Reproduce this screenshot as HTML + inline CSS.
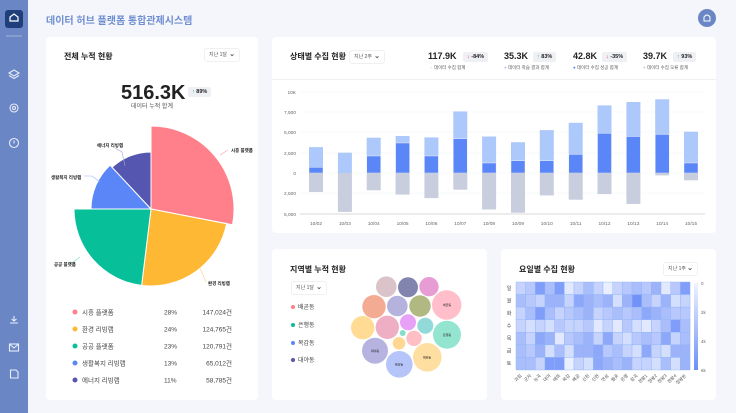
<!DOCTYPE html>
<html><head><meta charset="utf-8"><style>
*{margin:0;padding:0;box-sizing:border-box}
body{width:736px;height:413px;background:#f4f6fb;font-family:"Liberation Sans","Noto Sans CJK KR",sans-serif;position:relative;overflow:hidden;color:#222}
.a{position:absolute}
.card{position:absolute;background:#fff;border-radius:4px}
.dd{position:absolute;border:1px solid #eef0f4;border-radius:3px;font-size:5px;color:#555;padding:0 4px;line-height:12px;height:14px}
.dd b{position:absolute;right:4px;top:0;font-size:7px}
.t{font-weight:bold;font-size:8px;color:#222}
.s{font-size:5px;color:#555}
.badge{position:absolute;background:#eef0f4;border-radius:2px;font-size:5.5px;font-weight:bold;line-height:10px;padding:0 4px}
</style></head><body>
<div class="a" style="left:0;top:0;width:28px;height:413px;background:#6a86c4"></div>
<div class="a" style="left:5px;top:10px;width:18px;height:18px;background:#1f3f7a;border-radius:3px"></div>
<svg class="a" style="left:0;top:0" width="28" height="413">
<path d="M10 21 L10 17 L14 14 L18 17 L18 21 Z" fill="none" stroke="#fff" stroke-width="1.2"/>
<line x1="6" y1="36" x2="22" y2="36" stroke="#9db1db" stroke-width="1"/>
<g fill="none" stroke="#e8eefa" stroke-width="1.1">
<path d="M9 73 L14 70 L19 73 L14 76Z M9 75.5 L14 78.5 L19 75.5"/>
<circle cx="14" cy="108" r="4"/><circle cx="14" cy="108" r="1.5"/>
<circle cx="14" cy="143" r="4.5"/><line x1="14" y1="140.5" x2="14" y2="143.5"/>
<path d="M10 323 L18 323 M14 316 L14 321 M11.5 319 L14 321 L16.5 319"/>
<rect x="9.5" y="344" width="9" height="7"/><path d="M9.5 344 L14 348 L18.5 344"/>
<path d="M10.5 370 L16 370 L18 372 L18 378 L10.5 378Z"/>
</g></svg>
<div class="a" style="left:46px;top:12px;font-size:10px;color:#6f8fd0;font-weight:bold">데이터 허브 플랫폼 통합관제시스템</div>
<div class="a" style="left:698px;top:9px;width:18px;height:18px;border-radius:50%;background:#6a86c4"></div>
<svg class="a" style="left:698px;top:9px" width="18" height="18"><path d="M6 12 L6 8 Q9 4 12 8 L12 12Z" fill="none" stroke="#fff" stroke-width="1"/></svg>

<div class="card" style="left:46px;top:37px;width:212px;height:363px"></div>
<div class="a t" style="left:64px;top:51px">전체 누적 현황</div>
<div class="dd" style="left:204px;top:48px;width:36px">지난 1달<b>⌄</b></div>
<div class="a" style="left:121px;top:82px;font-size:20px;font-weight:bold;color:#222">516.3K</div>
<div class="badge" style="left:188px;top:87px"><span style="color:#1bb38a">↑</span> 89%</div>
<div class="a s" style="left:131px;top:101px;font-size:6px">데이터 누적 합계</div>
<svg class="a" style="left:46px;top:110px" width="212" height="190" viewBox="46 110 212 190">
<g stroke="#fff" stroke-width="1">
<path d="M151 209 L151 126 A83 83 0 0 1 232.5 224.8Z" fill="#ff7f8a"/>
<path d="M151 209 L226.6 223.7 A77 77 0 0 1 141.6 285.4Z" fill="#ffb833"/>
<path d="M151 209 L141.6 285.4 A77 77 0 0 1 74 209Z" fill="#07bf99"/>
<path d="M151 209 L91 209 A60 60 0 0 1 110.1 165.1Z" fill="#5b86f7"/>
<path d="M151 209 L112.1 167.3 A57 57 0 0 1 151 152Z" fill="#5556b0"/>
</g>
<g fill="none" stroke-width="0.6">
<path d="M220 155 L228 150" stroke="#ff9aa4"/>
<path d="M200 268 L206 282" stroke="#ffcf80"/>
<path d="M80 257 L70 264" stroke="#7fdcc5"/>
<path d="M100 182 L92 176 L84 176" stroke="#9db6fb"/>
<path d="M125 166 L122 152 L115 148" stroke="#a5a6dc"/>
</g>
<g font-size="4.5" font-weight="bold" fill="#222">
<text x="231" y="152">시흥 플랫폼</text>
<text x="208" y="285">환경 리빙랩</text>
<text x="54" y="266">공공 플랫폼</text>
<text x="51" y="179">생활복지 리빙랩</text>
<text x="97" y="147">에너지 리빙랩</text>
</g></svg>
<svg class="a" style="left:46px;top:300px" width="212" height="90" viewBox="46 300 212 90">
<g font-size="6.5" fill="#444">
<circle cx="75" cy="312" r="2.5" fill="#ff7f8a"/><text x="82" y="314.5">시흥 플랫폼</text><text x="164" y="314.5">28%</text><text x="232" y="314.5" text-anchor="end">147,024건</text>
<circle cx="75" cy="329" r="2.5" fill="#ffb833"/><text x="82" y="331.5">환경 리빙랩</text><text x="164" y="331.5">24%</text><text x="232" y="331.5" text-anchor="end">124,765건</text>
<circle cx="75" cy="346" r="2.5" fill="#07bf99"/><text x="82" y="348.5">공공 플랫폼</text><text x="164" y="348.5">23%</text><text x="232" y="348.5" text-anchor="end">120,791건</text>
<circle cx="75" cy="363" r="2.5" fill="#5b86f7"/><text x="82" y="365.5">생활복지 리빙랩</text><text x="164" y="365.5">13%</text><text x="232" y="365.5" text-anchor="end">65,012건</text>
<circle cx="75" cy="380" r="2.5" fill="#5556b0"/><text x="82" y="382.5">에너지 리빙랩</text><text x="164" y="382.5">11%</text><text x="232" y="382.5" text-anchor="end">58,785건</text>
</g></svg>

<div class="card" style="left:272px;top:37px;width:444px;height:196px"></div>
<div class="a" style="left:272px;top:79px;width:444px;height:1px;background:#eef0f4"></div>
<div class="a t" style="left:290px;top:51px">상태별 수집 현황</div>
<div class="dd" style="left:349px;top:50px;width:36px">지난 2주<b>⌄</b></div>
<div class="a" style="left:428px;top:51px;font-size:9px;font-weight:bold">117.9K</div>
<div class="badge" style="left:463px;top:52px"><span style="color:#f36">↓</span> -84%</div>
<div class="a s" style="left:430px;top:65px;font-size:4.5px"><span style="color:#eee">●</span> 데이터 수집 합계</div>
<div class="a" style="left:504px;top:51px;font-size:9px;font-weight:bold">35.3K</div>
<div class="badge" style="left:533px;top:52px"><span style="color:#1bb38a">↑</span> 83%</div>
<div class="a s" style="left:504px;top:65px;font-size:4.5px"><span style="color:#adc8fb">●</span> 데이터 학습 결과 합계</div>
<div class="a" style="left:573px;top:51px;font-size:9px;font-weight:bold">42.8K</div>
<div class="badge" style="left:602px;top:52px"><span style="color:#f36">↓</span> -35%</div>
<div class="a s" style="left:573px;top:65px;font-size:4.5px"><span style="color:#5b86f7">●</span> 데이터 수집 성공 합계</div>
<div class="a" style="left:643px;top:51px;font-size:9px;font-weight:bold">39.7K</div>
<div class="badge" style="left:673px;top:52px"><span style="color:#1bb38a">↑</span> 93%</div>
<div class="a s" style="left:643px;top:65px;font-size:4.5px"><span style="color:#c8cedd">●</span> 데이터 수집 오류 합계</div>
<svg class="a" style="left:272px;top:80px" width="444" height="153" viewBox="272 80 444 153">
<g stroke="#f0f2f6" stroke-width="0.6"><line x1="300" x2="705" y1="92" y2="92"/><line x1="300" x2="705" y1="112" y2="112"/><line x1="300" x2="705" y1="132" y2="132"/><line x1="300" x2="705" y1="153" y2="153"/><line x1="300" x2="705" y1="173" y2="173"/><line x1="300" x2="705" y1="193" y2="193"/></g>
<line x1="300" x2="705" y1="214" y2="214" stroke="#ccc" stroke-width="0.7"/>
<g font-size="4.8" fill="#666" text-anchor="end"><text x="296" y="94">10K</text><text x="296" y="114">7,500</text><text x="296" y="134">5,000</text><text x="296" y="155">2,500</text><text x="296" y="175">0</text><text x="296" y="195">2,500</text><text x="296" y="216">5,000</text></g>
<g fill="#adc8fb">
<rect x="309" y="147.1" width="14" height="25.9"/><rect x="337.9" y="152.7" width="14" height="20.3"/><rect x="366.7" y="137.7" width="14" height="35.3"/><rect x="395.6" y="136" width="14" height="37"/><rect x="424.4" y="137.4" width="14" height="35.6"/><rect x="453.3" y="111.4" width="14" height="61.6"/><rect x="482.1" y="136.5" width="14" height="36.5"/><rect x="511" y="142.2" width="14" height="30.8"/><rect x="539.8" y="130.1" width="14" height="42.9"/><rect x="568.7" y="122.8" width="14" height="50.2"/><rect x="597.5" y="105.4" width="14" height="67.6"/><rect x="626.4" y="102" width="14" height="71"/><rect x="655.2" y="99.3" width="14" height="73.7"/><rect x="684" y="131.7" width="14" height="41.3"/></g>
<g fill="#5b86f7" stroke="#fff" stroke-width="0.4">
<rect x="309" y="167.3" width="14" height="5.7"/><rect x="366.7" y="156" width="14" height="17"/><rect x="395.6" y="143" width="14" height="30"/><rect x="424.4" y="156" width="14" height="17"/><rect x="453.3" y="138.7" width="14" height="34.3"/><rect x="482.1" y="163" width="14" height="10"/><rect x="511" y="160.8" width="14" height="12.2"/><rect x="539.8" y="160.8" width="14" height="12.2"/><rect x="568.7" y="154.4" width="14" height="18.6"/><rect x="597.5" y="133.3" width="14" height="39.7"/><rect x="626.4" y="136.5" width="14" height="36.5"/><rect x="655.2" y="134.4" width="14" height="38.6"/><rect x="684" y="163" width="14" height="10"/></g>
<g fill="#c8cedd">
<rect x="309" y="173" width="14" height="19"/><rect x="337.9" y="173" width="14" height="38.9"/><rect x="366.7" y="173" width="14" height="17.3"/><rect x="395.6" y="173" width="14" height="21.6"/><rect x="424.4" y="173" width="14" height="25.1"/><rect x="453.3" y="173" width="14" height="16.7"/><rect x="482.1" y="173" width="14" height="36.5"/><rect x="511" y="173" width="14" height="39.7"/><rect x="539.8" y="173" width="14" height="22.4"/><rect x="568.7" y="173" width="14" height="26.7"/><rect x="597.5" y="173" width="14" height="21.1"/><rect x="626.4" y="173" width="14" height="31"/><rect x="655.2" y="173" width="14" height="2.4"/><rect x="684" y="173" width="14" height="7.3"/></g>
<g font-size="4.8" fill="#666" text-anchor="middle"><text x="316" y="225">10/02</text><text x="344.9" y="225">10/03</text><text x="373.7" y="225">10/04</text><text x="402.6" y="225">10/05</text><text x="431.4" y="225">10/06</text><text x="460.3" y="225">10/07</text><text x="489.1" y="225">10/08</text><text x="518" y="225">10/09</text><text x="546.8" y="225">10/10</text><text x="575.7" y="225">10/11</text><text x="604.5" y="225">10/12</text><text x="633.4" y="225">10/13</text><text x="662.2" y="225">10/14</text><text x="691" y="225">10/15</text></g>
</svg>

<div class="card" style="left:272px;top:249px;width:215px;height:151px"></div>
<div class="a t" style="left:290px;top:264px">지역별 누적 현황</div>
<div class="dd" style="left:291px;top:281px;width:36px">지난 1달<b>⌄</b></div>
<svg class="a" style="left:272px;top:249px" width="215" height="151" viewBox="272 249 215 151">
<g font-size="6" fill="#444">
<circle cx="293" cy="307" r="2" fill="#ff7f8a"/><text x="298" y="309">배곧동</text>
<circle cx="293" cy="325" r="2" fill="#07bf99"/><text x="298" y="327">은행동</text>
<circle cx="293" cy="343" r="2" fill="#5b86f7"/><text x="298" y="345">목감동</text>
<circle cx="293" cy="360" r="2" fill="#5556b0"/><text x="298" y="362">대야동</text></g>
<g fill-opacity="0.85">
<circle cx="386.3" cy="286.7" r="10.3" fill="#d4b8c0"/><circle cx="408" cy="287.3" r="10" fill="#6b6e9e"/><circle cx="429" cy="286.7" r="9.7" fill="#e38ccd"/><circle cx="446.7" cy="305" r="14.7" fill="#ffb3c0"/><circle cx="374" cy="306.7" r="11.7" fill="#f29c80"/><circle cx="397.3" cy="306" r="10.3" fill="#a8a6d8"/><circle cx="420" cy="306" r="10.7" fill="#a3ab6c"/><circle cx="362.7" cy="327.7" r="11.7" fill="#ffd580"/><circle cx="387.3" cy="327.3" r="11.7" fill="#eba0b8"/><circle cx="408" cy="322.3" r="8" fill="#e390f5"/><circle cx="425.3" cy="325.7" r="8" fill="#7fd4d4"/><circle cx="447" cy="334.7" r="14" fill="#80e0c8"/><circle cx="402.7" cy="333" r="3" fill="#70d8c0"/><circle cx="414" cy="338.3" r="7.7" fill="#ffb3b8"/><circle cx="399" cy="343.3" r="6.3" fill="#ffd080"/><circle cx="375" cy="350.7" r="13" fill="#a9a6dc"/><circle cx="427.3" cy="357.3" r="14.3" fill="#ffd890"/><circle cx="399.3" cy="364.3" r="13.3" fill="#a8baf8"/></g>
<g font-size="3" fill="#222" text-anchor="middle"><text x="447" y="306">배곧동</text><text x="447" y="336">은행동</text><text x="375" y="352">대야동</text><text x="427" y="358.5">매화동</text><text x="399" y="365.5">목감동</text></g>
</svg>

<div class="card" style="left:501px;top:249px;width:215px;height:151px"></div>
<div class="a t" style="left:519px;top:264px">요일별 수집 현황</div>
<div class="dd" style="left:663px;top:262px;width:35px">지난 1주<b>⌄</b></div>
<svg class="a" style="left:501px;top:249px" width="215" height="164" viewBox="501 249 215 164" id="hm">
<defs><linearGradient id="cg" x1="0" y1="0" x2="0" y2="1"><stop offset="0" stop-color="#f0f4ff"/><stop offset="1" stop-color="#6b8ff7"/></linearGradient></defs>
<rect x="694" y="283" width="4" height="87" fill="url(#cg)"/>
<g font-size="4.5" fill="#666"><text x="701" y="285">0</text><text x="701" y="314">2k</text><text x="701" y="343">4k</text><text x="701" y="372">6k</text></g>
<g font-size="5" fill="#444" text-anchor="middle"><text x="509" y="290">일</text><text x="509" y="302.5">월</text><text x="509" y="315">화</text><text x="509" y="327.5">수</text><text x="509" y="340">목</text><text x="509" y="352.5">금</text><text x="509" y="365">토</text></g>
<g id="cells"></g><g id="cols" font-size="4.5" fill="#555"></g>
</svg>
<script>
var v=[[.3,.4,.8,.5,.8,.1,.3,.5,.3,.05,.3,.4,.5,.4,.6,.1,.4,.8],[.5,.4,.3,.6,.6,.3,.7,.6,.5,.6,.2,.6,.9,.5,.3,.6,.2,.3],[.3,.5,.8,.5,.3,.4,.5,.6,.3,.4,.5,.4,.5,.7,.6,.5,.4,.4],[.3,.2,.3,.2,.4,.3,.3,.4,.1,.3,.1,.4,.2,.1,.3,.5,.8,.5],[.5,.3,.7,.6,.1,.4,.5,.6,.3,.7,.3,.2,.4,.5,.4,.7,.3,.5],[.5,.4,.6,.2,.5,.2,.6,.6,.7,.4,.5,.3,.2,.7,.3,.2,.6,.6],[.5,.5,.3,.8,.8,.05,.3,.2,.7,.6,.5,.6,.3,.3,.2,.5,.2,.6]];
var g=document.getElementById('cells'),s='';
function col(t){var a=[240,244,255],b=[100,135,247];return 'rgb('+a.map(function(x,i){return Math.round(x+(b[i]-x)*t)}).join(',')+')';}
for(var r=0;r<7;r++)for(var c=0;c<18;c++)s+='<rect x="'+(516+c*9.67)+'" y="'+(282+r*12.57)+'" width="9.67" height="12.57" fill="'+col(v[r][c])+'" stroke="#8fb3f8" stroke-width="0.4"/>';
g.innerHTML=s;
var n=['과림','군자','능곡','대야','매화','목감','배곧','신천','신현','연성','월곶','은행','장곡','정왕1','정왕2','정왕3','정왕4','정왕본'],t='';
for(var c=0;c<18;c++){var x=516+c*9.67+6;t+='<text x="'+x+'" y="376" text-anchor="end" transform="rotate(-45 '+x+' 376)">'+n[c]+'</text>';}
document.getElementById('cols').innerHTML=t;
</script>
</body></html>
